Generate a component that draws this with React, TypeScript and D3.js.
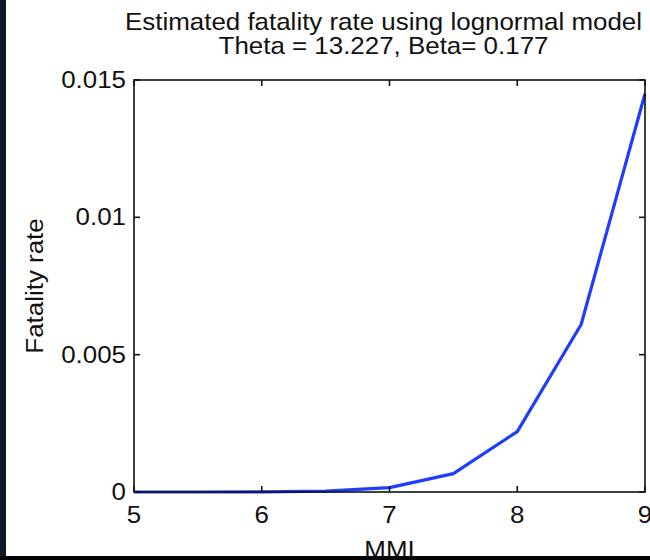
import React from "react";
import * as d3 from "d3";

const mmi = [5, 5.5, 6, 6.5, 7, 7.5, 8, 8.5, 9];
const fatalityRate = [0, 0, 0.000005, 0.00003, 0.00016, 0.00067, 0.0022, 0.0061, 0.0145];
const xTicks = [5, 6, 7, 8, 9];
const yTicks = [0, 0.005, 0.01, 0.015];
const yTickLabels = ["0", "0.005", "0.01", "0.015"];
const titleLines = ["Estimated fatality rate using lognormal model", "Theta = 13.227, Beta= 0.177"];

// the reference text looks slightly wider than plain Arial, so stretch it a bit
const Label = ({ x, y, anchor = "middle", rotate = 0, children }: any) => (
  <text
    transform={`translate(${x}, ${y}) rotate(${rotate}) scale(1.08, 1)`}
    fontSize={24}
    textAnchor={anchor}
    fill="#111"
  >
    {children}
  </text>
);

const App = () => {
  const width = 650;
  const height = 560;
  const left = 134;
  const right = 645;
  const top = 80;
  const bottom = 492;

  const xScale = d3.scaleLinear().domain([5, 9]).range([left, right]);
  const yScale = d3.scaleLinear().domain([0, 0.015]).range([bottom, top]);

  const line = d3
    .line<number>()
    .x((d, i) => xScale(mmi[i]))
    .y((d) => yScale(d));

  const cx = (left + right) / 2;

  return (
    <svg
      width={width}
      height={height}
      style={{ position: "absolute", left: 0, top: 0, background: "#fff" }}
      fontFamily="Arial, 'Liberation Sans', sans-serif"
    >
      {/* title */}
      {titleLines.map((t, i) => (
        <Label key={i} x={cx - 6} y={30 + i * 24}>
          {t}
        </Label>
      ))}

      {/* data line */}
      <path d={line(fatalityRate) || ""} fill="none" stroke="#1f3cff" strokeWidth={3.2} strokeLinejoin="round" />

      {/* axes box */}
      <rect x={left} y={top} width={right - left} height={bottom - top} fill="none" stroke="#111" strokeWidth={1.6} />

      {xTicks.map((t) => (
        <g key={t}>
          <line x1={xScale(t)} x2={xScale(t)} y1={bottom} y2={bottom - 6} stroke="#111" strokeWidth={1.6} />
          <line x1={xScale(t)} x2={xScale(t)} y1={top} y2={top + 6} stroke="#111" strokeWidth={1.6} />
          <Label x={xScale(t)} y={bottom + 31}>
            {t}
          </Label>
        </g>
      ))}

      {yTicks.map((t, i) => (
        <g key={t}>
          <line x1={left} x2={left + 6} y1={yScale(t)} y2={yScale(t)} stroke="#111" strokeWidth={1.6} />
          <line x1={right} x2={right - 6} y1={yScale(t)} y2={yScale(t)} stroke="#111" strokeWidth={1.6} />
          <Label x={left - 8} y={yScale(t) + 8} anchor="end">
            {yTickLabels[i]}
          </Label>
        </g>
      ))}

      {/* axis labels */}
      <Label x={cx} y={558}>
        MMI
      </Label>
      <Label x={43} y={(top + bottom) / 2} rotate={-90}>
        Fatality rate
      </Label>

      {/* dark frame edges */}
      <rect x={0} y={0} width={6} height={height} fill="#0c1a28" />
      <rect x={0} y={556} width={width} height={4} fill="#000" />
    </svg>
  );
};

export default App;
